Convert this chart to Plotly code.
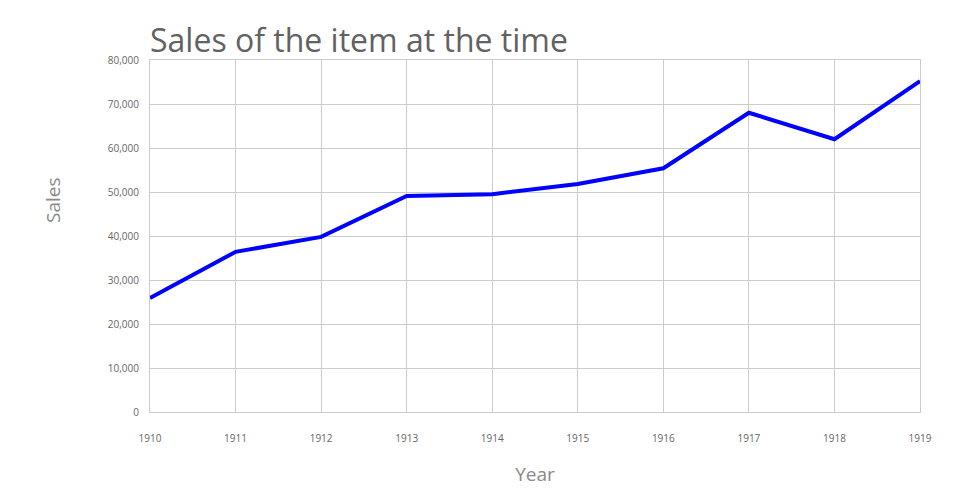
import plotly.graph_objects as go

years = [1910, 1911, 1912, 1913, 1914, 1915, 1916, 1917, 1918, 1919]
sales = [25900, 36400, 39800, 49100, 49500, 51800, 55400, 68000, 62000, 75200]
y_ticks = [0, 10000, 20000, 30000, 40000, 50000, 60000, 70000, 80000]

FONT = "Open Sans"
GRID = "#cccccc"
fig = go.Figure()
fig.add_trace(go.Scatter(x=years, y=sales, mode="lines",
                         line=dict(color="#0000ff", width=4), hoverinfo="x+y"))

fig.update_layout(
    width=960, height=500,
    paper_bgcolor="white", plot_bgcolor="white",
    margin=dict(l=142, r=48, t=52, b=96),
    showlegend=False,
    font=dict(family=FONT, color="#666666"),
    title=dict(text="Sales of the item at the time", x=142/960, xanchor="left",
               y=1 - 44/500, yanchor="bottom", yref="container",
               font=dict(family=FONT, size=32, color="#626262")),
    xaxis=dict(range=[1910, 1919], tickvals=years, ticktext=[str(y) for y in years],
               showgrid=True, gridcolor=GRID, gridwidth=1,
               zeroline=False, showline=True, linecolor=GRID, linewidth=1, mirror=True,
               ticks="outside", ticklen=17, tickcolor="rgba(0,0,0,0)",
               tickfont=dict(family=FONT, size=10, color="#666666"),
               title=dict(text="Year", font=dict(family=FONT, size=19, color="#8a8a8a"), standoff=23)),
    yaxis=dict(range=[0, 80000], tickvals=y_ticks, tickformat=",",
               showgrid=True, gridcolor=GRID, gridwidth=1,
               zeroline=False, showline=True, linecolor=GRID, linewidth=1, mirror=True,
               ticks="outside", ticklen=8, tickcolor="rgba(0,0,0,0)",
               tickfont=dict(family=FONT, size=10, color="#666666")),
    annotations=[dict(text="Sales", xref="paper", yref="paper", x=-97/770, y=(412-200)/352,
                      xanchor="center", yanchor="middle", textangle=-90, showarrow=False,
                      font=dict(family=FONT, size=19, color="#8a8a8a"))],
)
fig.write_html("out.html")
